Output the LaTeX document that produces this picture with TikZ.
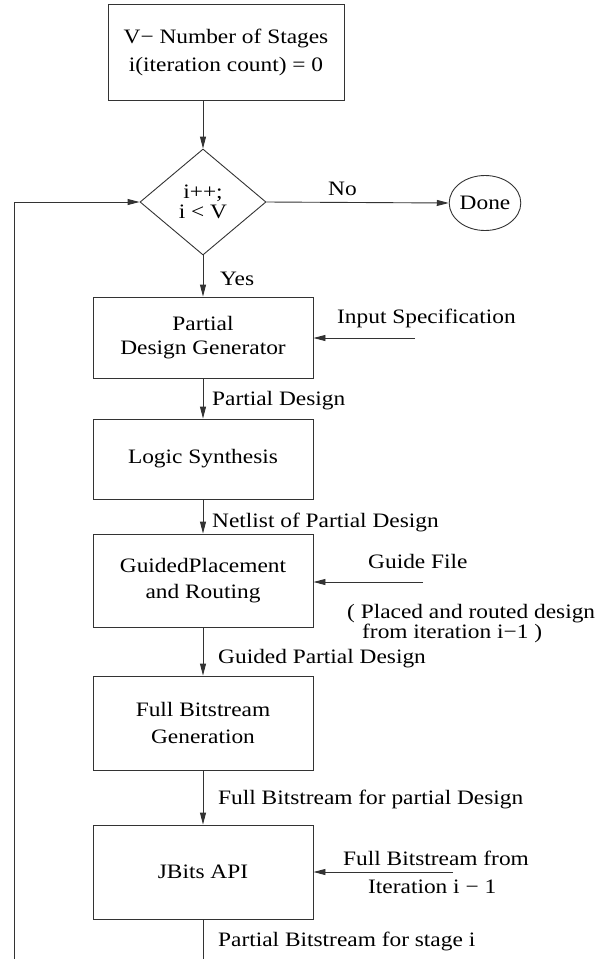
\documentclass[tikz,border=0pt]{standalone}
\usepackage{fontspec}
\setmainfont{Liberation Serif}[FakeStretch=1.14]
\usetikzlibrary{arrows.meta,shapes.geometric}
\begin{document}
\begin{tikzpicture}[x=1pt,y=-1pt,
  every node/.style={font=\fontsize{20.5}{24}\selectfont, text=black},
  box/.style={draw=black!80, line width=0.9pt, minimum width=220pt, inner sep=0pt, align=center},
  conn/.style={draw=black!80, line width=0.9pt},
  arr/.style={conn, -{Triangle[length=12pt,width=6pt]}},
  lbl/.style={anchor=base west, inner sep=0pt}]
\useasboundingbox (0,0) rectangle (603,959);

\node[box, minimum width=236pt, minimum height=96pt] (top) at (226,52) {V− Number of Stages\\[4pt] i(iteration count) = 0};
\node[draw=black!80, line width=0.9pt, diamond, minimum width=126pt, minimum height=106pt, inner sep=0pt, align=center, font=\fontsize{20.5}{20}\selectfont] (dia) at (203,202) {i++;\\ i < V};
\node[draw=black!80, line width=0.9pt, ellipse, minimum width=65pt, minimum height=55pt, inner sep=0pt] (done) at (485,203) {Done};

\node[box, minimum height=81pt] (pdg) at (203,337.5) {Partial\\Design Generator};
\node[box, minimum height=80pt] (logic) at (203,459) {Logic Synthesis};
\node[box, minimum height=93pt] (gpr) at (203,580.5) {GuidedPlacement\\[2pt]and Routing};
\node[box, minimum height=94pt] (fbg) at (203,723) {Full Bitstream\\[3pt]Generation};
\node[box, minimum height=94pt] (jb) at (203,872) {JBits API};

\coordinate (jbend) at (203,959);
\coordinate (loopst) at (14,959);
\coordinate (loopc) at (14,202);
\coordinate (inspec) at (415,338);
\coordinate (guide) at (423,582);
\coordinate (fbfrom) at (453,872);

\draw[arr] (top.south -| dia.north) -- (dia.north);
\draw[arr] (dia.south) -- (pdg.north);
\draw[arr] (dia.east) -- (done.west);
\draw[arr] (pdg) -- (logic);
\draw[arr] (logic) -- (gpr);
\draw[arr] (gpr) -- (fbg);
\draw[arr] (fbg) -- (jb);
\draw[conn] (jb) -- (jbend);
\draw[arr] (loopst) -- (loopc) -- (dia.west);
\draw[arr] (inspec) -- (inspec -| pdg.east);
\draw[arr] (guide) -- (guide -| gpr.east);
\draw[arr] (fbfrom) -- (fbfrom -| jb.east);

\node[lbl] (no) at (328,195) {No};
\node[lbl] (yes) at (220,285) {Yes};
\node[lbl] (inspecl) at (337,323) {Input Specification};
\node[lbl] (pdl) at (212,405) {Partial Design};
\node[lbl] (nl) at (212,527) {Netlist of Partial Design};
\node[lbl] (gf) at (368,568) {Guide File};
\node[anchor=north west, inner sep=0pt, align=left, font=\fontsize{20.5}{17}\selectfont] (pr) at (347,604) {( Placed and routed design\\\hspace*{15pt}from iteration i−1 )};
\node[lbl] (gpd) at (218,663) {Guided Partial Design};
\node[lbl] (fbp) at (218,804) {Full Bitstream for partial Design};
\node[lbl] (fbf) at (343,865) {Full Bitstream from};
\node[lbl] (it) at (368,893) {Iteration i − 1};
\node[lbl] (pbs) at (218,946) {Partial Bitstream for stage i};
\end{tikzpicture}
\end{document}
